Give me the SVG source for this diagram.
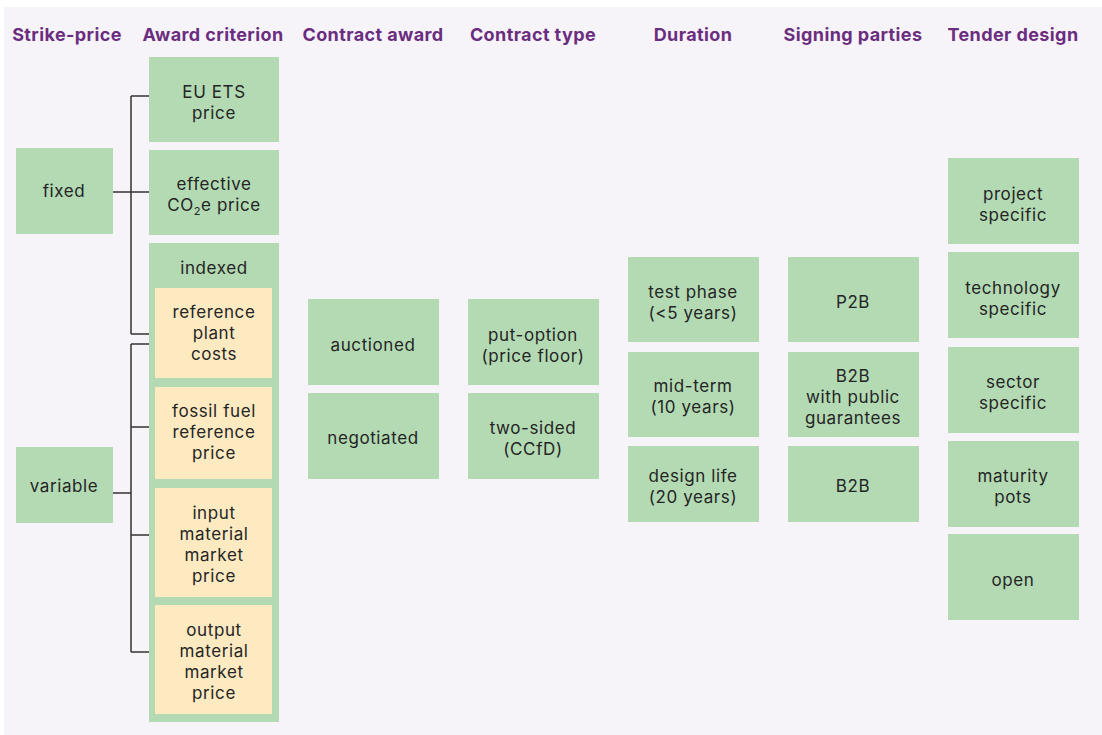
<svg xmlns="http://www.w3.org/2000/svg" width="1102" height="735" viewBox="0 0 1102 735">
<style>
.hdr{font-family:Inter,"Noto Sans","Liberation Sans",sans-serif;font-weight:bold;font-size:18px;letter-spacing:0.4px;fill:#6b2d7f;text-anchor:middle}
.t{font-family:Inter,"Noto Sans","Liberation Sans",sans-serif;font-size:17px;letter-spacing:0.6px;fill:#252525;text-anchor:middle}
.g{fill:#b3dab3}
.y{fill:#fdeac1}
.ln{stroke:#333;stroke-width:1.5;fill:none}
</style>
<rect x="0" y="0" width="1102" height="735" fill="#ffffff"/>
<rect x="4" y="7" width="1098" height="728" fill="#f6f4f8"/>
<g id="headers">
<text class="hdr" x="67" y="41">Strike-price</text>
<text class="hdr" x="213" y="41">Award criterion</text>
<text class="hdr" x="373" y="41">Contract award</text>
<text class="hdr" x="533" y="41">Contract type</text>
<text class="hdr" x="693" y="41">Duration</text>
<text class="hdr" x="853" y="41">Signing parties</text>
<text class="hdr" x="1013" y="41">Tender design</text>
</g>
<g id="connectors">
<path class="ln" d="M131 96V334M131 96H149M113 192H149M131 334H155"/>
<path class="ln" d="M131 344V652M131 344H155M131 427H155M113 493H131M131 535H155M131 652H155"/>
</g>
<g id="fixed"><rect class="g" x="16" y="148" width="97" height="86"/><text class="t" x="64" y="197">fixed</text></g>
<g id="variable"><rect class="g" x="16" y="447" width="97" height="76"/><text class="t" x="64" y="492">variable</text></g>
<g id="eu-ets"><rect class="g" x="149" y="57" width="130" height="85"/><text class="t" x="214" y="98">EU ETS</text><text class="t" x="214" y="119">price</text></g>
<g id="effective"><rect class="g" x="149" y="150" width="130" height="85"/><text class="t" x="214" y="190">effective</text><text class="t" x="214" y="211">CO<tspan font-size="11" dy="4">2</tspan><tspan dy="-4">e price</tspan></text></g>
<g id="indexed"><rect class="g" x="149" y="243" width="130" height="479"/><text class="t" x="214" y="274">indexed</text></g>
<g id="reference-plant"><rect class="y" x="155" y="288" width="117" height="90"/><text class="t" x="214" y="318">reference</text><text class="t" x="214" y="339">plant</text><text class="t" x="214" y="360">costs</text></g>
<g id="fossil-fuel"><rect class="y" x="155" y="387" width="117" height="92"/><text class="t" x="214" y="417">fossil fuel</text><text class="t" x="214" y="438">reference</text><text class="t" x="214" y="459">price</text></g>
<g id="input-material"><rect class="y" x="155" y="488" width="117" height="109"/><text class="t" x="214" y="519">input</text><text class="t" x="214" y="540">material</text><text class="t" x="214" y="561">market</text><text class="t" x="214" y="582">price</text></g>
<g id="output-material"><rect class="y" x="155" y="605" width="117" height="109"/><text class="t" x="214" y="636">output</text><text class="t" x="214" y="657">material</text><text class="t" x="214" y="678">market</text><text class="t" x="214" y="699">price</text></g>
<g id="auctioned"><rect class="g" x="308" y="299" width="131" height="86"/><text class="t" x="373" y="351">auctioned</text></g>
<g id="negotiated"><rect class="g" x="308" y="393" width="131" height="86"/><text class="t" x="373" y="444">negotiated</text></g>
<g id="put-option"><rect class="g" x="468" y="299" width="131" height="86"/><text class="t" x="533" y="341">put-option</text><text class="t" x="533" y="362">(price floor)</text></g>
<g id="two-sided"><rect class="g" x="468" y="393" width="131" height="86"/><text class="t" x="533" y="434">two-sided</text><text class="t" x="533" y="455">(CCfD)</text></g>
<g id="test-phase"><rect class="g" x="628" y="257" width="131" height="85"/><text class="t" x="693" y="298">test phase</text><text class="t" x="693" y="319">(&lt;5 years)</text></g>
<g id="mid-term"><rect class="g" x="628" y="352" width="131" height="85"/><text class="t" x="693" y="392">mid-term</text><text class="t" x="693" y="413">(10 years)</text></g>
<g id="design-life"><rect class="g" x="628" y="446" width="131" height="76"/><text class="t" x="693" y="482">design life</text><text class="t" x="693" y="503">(20 years)</text></g>
<g id="p2b"><rect class="g" x="788" y="257" width="131" height="85"/><text class="t" x="853" y="308">P2B</text></g>
<g id="b2b-public"><rect class="g" x="788" y="352" width="131" height="85"/><text class="t" x="853" y="382">B2B</text><text class="t" x="853" y="403">with public</text><text class="t" x="853" y="424">guarantees</text></g>
<g id="b2b"><rect class="g" x="788" y="446" width="131" height="76"/><text class="t" x="853" y="492">B2B</text></g>
<g id="project-specific"><rect class="g" x="948" y="158" width="131" height="86"/><text class="t" x="1013" y="200">project</text><text class="t" x="1013" y="221">specific</text></g>
<g id="technology-specific"><rect class="g" x="948" y="252" width="131" height="86"/><text class="t" x="1013" y="294">technology</text><text class="t" x="1013" y="315">specific</text></g>
<g id="sector-specific"><rect class="g" x="948" y="347" width="131" height="86"/><text class="t" x="1013" y="388">sector</text><text class="t" x="1013" y="409">specific</text></g>
<g id="maturity-pots"><rect class="g" x="948" y="441" width="131" height="86"/><text class="t" x="1013" y="482">maturity</text><text class="t" x="1013" y="503">pots</text></g>
<g id="open"><rect class="g" x="948" y="534" width="131" height="86"/><text class="t" x="1013" y="586">open</text></g>
</svg>
